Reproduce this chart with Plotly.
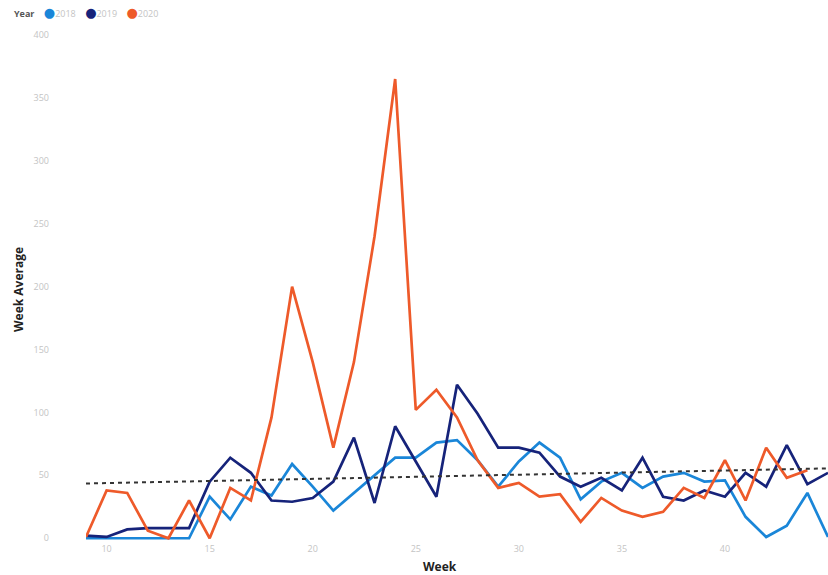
import plotly.graph_objects as go

# Weekly averages by year
weeks = list(range(9, 46))

avg_2018 = [0, 0, 0, 0, 0, 0, 33, 15, 41, 34, 59, 41, 22, 36, 50, 64, 64, 76, 78, 62,
            41, 61, 76, 64, 31, 45, 52, 40, 49, 52, 45, 46, 17, 1, 10, 36, 1]
avg_2019 = [2, 1, 7, 8, 8, 8, 45, 64, 52, 30, 29, 32, 45, 80, 28, 89, 61, 33, 122, 99,
            72, 72, 68, 49, 41, 48, 38, 64, 33, 30, 38, 33, 52, 41, 74, 43, 52]
weeks_2020 = list(range(9, 45))
avg_2020 = [1, 38, 36, 6, 0, 30, 0, 40, 30, 96, 200, 140, 72, 140, 240, 365, 102, 118, 96, 62,
            40, 44, 33, 35, 13, 32, 22, 17, 21, 40, 32, 62, 30, 72, 48, 54]

# Trend line end points
trend_weeks = [9, 45]
trend_values = [43.5, 55.5]

year_labels = ["2018", "2019", "2020"]
colors = {"2018": "#1A86D8", "2019": "#16237A", "2020": "#EE5A2A"}

y_ticks = [0, 50, 100, 150, 200, 250, 300, 350, 400]
x_ticks = [10, 15, 20, 25, 30, 35, 40, 45]

fig = go.Figure()

for label, xs, ys in [("2018", weeks, avg_2018), ("2019", weeks, avg_2019), ("2020", weeks_2020, avg_2020)]:
    fig.add_trace(go.Scatter(
        x=xs, y=ys, mode="lines", name=label,
        line=dict(color=colors[label], width=2.7),
        showlegend=False,
    ))

fig.add_trace(go.Scatter(
    x=trend_weeks, y=trend_values, mode="lines",
    line=dict(color="#333333", width=2, dash="4px,4px"),
    showlegend=False,
))

tick_font = dict(family="Open Sans, DejaVu Sans, sans-serif", size=9, color="#C4C4C4")

fig.update_xaxes(
    range=[9, 45], tickmode="array", tickvals=x_ticks,
    showgrid=False, zeroline=False, showline=False,
    tickfont=tick_font, ticks="",
)
fig.update_yaxes(
    range=[-3, 400], tickmode="array", tickvals=y_ticks,
    showgrid=False, zeroline=False, showline=False,
    tickfont=tick_font, ticks="", ticklabelstandoff=36,
)

# Legend row built from coloured text
legend_items = "&nbsp;&nbsp;&nbsp;&nbsp;".join(
    f"<span style='color:{colors[y]};font-size:13px'>●</span><span style='color:#C4C4C4'>{y}</span>"
    for y in year_labels
)
fig.add_annotation(
    x=12, y=12, xref="paper", yref="paper", xanchor="left", yanchor="middle",
    text="<span style='color:#555555'><b>Year</b></span>&nbsp;&nbsp;&nbsp;&nbsp;" + legend_items,
    showarrow=False,
    font=dict(family="Open Sans, DejaVu Sans, sans-serif", size=9),
)

title_font = dict(family="Open Sans, DejaVu Sans, sans-serif", size=12, color="#222222")
fig.add_annotation(
    text="<b>Week Average</b>", textangle=-90, showarrow=False,
    font=title_font, xref="paper", yref="paper", x=0, y=0.5,
)
fig.add_annotation(
    text="<b>Week</b>", showarrow=False, font=title_font,
    xref="paper", yref="paper", x=0.5, y=0,
)

fig.update_layout(
    width=828, height=575,
    margin=dict(l=86, r=0, t=35, b=33),
    paper_bgcolor="white", plot_bgcolor="white",
    showlegend=False,
)

# Place annotations in pixel terms relative to the plot area
W, H = 828, 575
pl, pr, pt, pb = 86, 0, 35, 33
pw, ph = W - pl - pr, H - pt - pb

def px_to_paper(px, py):
    return (px - pl) / pw, (H - pb - py) / ph

anns = list(fig.layout.annotations)
lx, ly = px_to_paper(12, 12)
anns[0].update(x=lx, y=ly)
tx, ty = px_to_paper(18, 290)
anns[1].update(x=tx, y=ty, xanchor="center", yanchor="middle")
wx, wy = px_to_paper(440, 566)
anns[2].update(x=wx, y=wy, xanchor="center", yanchor="middle")
fig.layout.annotations = anns

fig.write_html("out.html")
